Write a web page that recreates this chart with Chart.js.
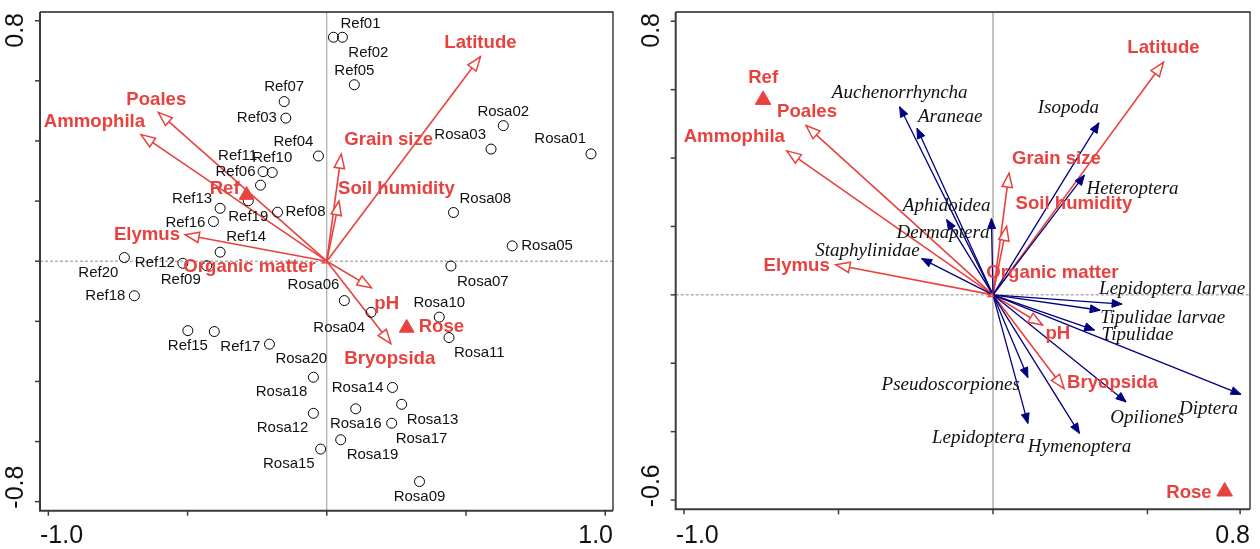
<!DOCTYPE html>
<html><head><meta charset="utf-8">
<script src="https://cdn.jsdelivr.net/npm/chart.js@4"></script>
<style>
html,body{margin:0;padding:0;background:#fff;}
#wrap{position:relative;width:1260px;height:549px;overflow:hidden;}
.c{position:absolute;top:0;width:630px;height:549px;}
</style></head><body>
<div id="wrap">
<div class="c" style="left:0"><canvas id="left" width="630" height="549"></canvas></div>
<div class="c" style="left:630px"><canvas id="right" width="630" height="549"></canvas></div>
</div>
<script>
// ---------------- DATA ----------------
const siteNames = ['Ref01','Ref02','Ref03','Ref04','Ref05','Ref06','Ref07','Ref08','Ref09','Ref10',
  'Ref11','Ref12','Ref13','Ref14','Ref15','Ref16','Ref17','Ref18','Ref19','Ref20',
  'Rosa01','Rosa02','Rosa03','Rosa04','Rosa05','Rosa06','Rosa07','Rosa08','Rosa09','Rosa10',
  'Rosa11','Rosa12','Rosa13','Rosa14','Rosa15','Rosa16','Rosa17','Rosa18','Rosa19','Rosa20'];
const siteX = [0.024,0.056,-0.147,-0.030,0.099,-0.238,-0.153,-0.177,-0.431,-0.196,
  -0.229,-0.517,-0.383,-0.383,-0.499,-0.407,-0.404,-0.691,-0.282,-0.727,
  0.949,0.634,0.590,0.159,0.666,0.063,0.446,0.455,0.333,0.404,
  0.439,-0.048,0.269,0.236,-0.022,0.104,0.233,-0.048,0.050,-0.206];
const siteY = [0.745,0.745,0.476,0.350,0.587,0.253,0.531,0.163,-0.015,0.295,
  0.298,-0.007,0.176,0.030,-0.231,0.132,-0.234,-0.115,0.201,0.012,
  0.357,0.451,0.373,-0.170,0.051,-0.131,-0.016,0.162,-0.733,-0.186,
  -0.254,-0.506,-0.476,-0.420,-0.625,-0.491,-0.539,-0.386,-0.594,-0.276];

const envNames = ['Latitude','Grain size','Soil humidity','Organic matter','pH','Bryopsida','Poales','Ammophila','Elymus'];
const envX = [0.552,0.052,0.044,-0.015,0.160,0.230,-0.605,-0.667,-0.509];
const envY = [0.680,0.356,0.200,-0.005,-0.088,-0.274,0.495,0.421,0.088];

const groupNames = ['Ref','Rose'];
const groupXLeft = [-0.288,0.287];
const groupYLeft = [0.220,-0.222];
const groupXRight = [-0.744,0.750];
const groupYRight = [0.570,-0.575];

const speciesNames = ['Auchenorrhyncha','Araneae','Aphidoidea','Dermaptera','Staphylinidae','Isopoda','Heteroptera',
  'Lepidoptera larvae','Tipulidae larvae','Tipulidae','Diptera','Opiliones','Hymenoptera','Lepidoptera','Pseudoscorpiones'];
const speciesX = [-0.302,-0.246,-0.150,-0.005,-0.231,0.343,0.296,0.418,0.347,0.329,0.803,0.431,0.280,0.113,0.113];
const speciesY = [0.550,0.487,0.220,0.223,0.106,0.503,0.350,-0.027,-0.045,-0.103,-0.291,-0.313,-0.405,-0.376,-0.242];

const leftXTicks = [-1.0,-0.5,0,0.5,1.0];
const leftYTicks = [-0.8,-0.6,-0.4,-0.2,0,0.2,0.4,0.6,0.8];
const leftXTickLabels = ['-1.0','1.0'];
const leftYTickLabels = ['-0.8','0.8'];
const rightXTicks = [-1.0,-0.5,0,0.5,0.8];
const rightYTicks = [-0.6,-0.4,-0.2,0,0.2,0.4,0.6,0.8];
const rightXTickLabels = ['-1.0','0.8'];
const rightYTickLabels = ['-0.6','0.8'];

// ---------------- LABEL LAYOUT (align, dx, dy in px) ----------------
const siteLabelLayout = [
  ['l',7,-13],['l',6,16],['r',-9,0],['r',-5,-14],['c',0,-14],['r',-5,-13],['c',0,-15],['l',8,0],['r',-6,14],['c',0,-15],
  ['r',-6,-16],['r',-8,0],['r',-8,-9],['l',6,-15],['c',0,15],['r',-8,1],['l',6,15],['r',-9,0],['c',0,16],['r',-6,15],
  ['r',-5,-15],['c',0,-14],['r',-5,-14],['r',-6,16],['l',9,0],['r',-5,-16],['l',6,16],['l',6,-14],['c',0,15],['c',0,-14],
  ['l',5,15],['r',-5,15],['l',5,16],['r',-9,0],['r',-6,15],['c',0,15],['l',4,16],['r',-6,15],['l',6,15],['l',6,15]];
const envLayoutLeft = [['c',0,-14],['l',3,-14],['l',-1,-12],['r',-7,4],['l',3,16],['c',-1,15],['c',-2,-13],['r',4,-13],['r',-5,0]];
const envLayoutRight = [['c',0,-14],['l',3,-14],['l',9,-23],['l',-2,-24],['l',3,9],['l',3,-6],['c',1,-14],['r',-2,-14],['r',-6,1]];
const groupLayoutLeft = [['r',-7,-6],['l',12,-1]];
const groupLayoutRight = [['c',0,-22],['r',-13,1]];
const speciesLayout = [['c',0,-14],['l',1,-11],['c',0,-14],['r',-2,14],['r',-2,-8],['r',0,-15],['l',2,14],
  ['l',-23,-15],['l',0,8],['l',7,5],['r',-3,15],['c',21,16],['c',0,14],['r',-3,15],['r',-8,7]];

// ---------------- STYLE ----------------
const RED = '#e8423f';
const NAVY = '#000080';
const SANS = '"Liberation Sans", Arial, sans-serif';
const SERIF = '"Liberation Serif", "Times New Roman", serif';

function head(ctx, x0, y0, x1, y1, len, half, fill, stroke, lw) {
  const d = Math.hypot(x1 - x0, y1 - y0);
  if (d < 0.5) return;
  const L = Math.min(len, d * 0.95), H = half * L / len;
  const a = Math.atan2(y1 - y0, x1 - x0);
  const bx = x1 - L * Math.cos(a), by = y1 - L * Math.sin(a);
  const px = -Math.sin(a) * H, py = Math.cos(a) * H;
  ctx.beginPath();
  ctx.moveTo(x1, y1); ctx.lineTo(bx + px, by + py); ctx.lineTo(bx - px, by - py); ctx.closePath();
  ctx.fillStyle = fill; ctx.fill();
  ctx.lineWidth = lw; ctx.strokeStyle = stroke; ctx.lineJoin = 'miter'; ctx.stroke();
}
function label(ctx, text, x, y, lay, font, color) {
  ctx.font = font; ctx.fillStyle = color; ctx.textBaseline = 'middle';
  ctx.textAlign = lay[0] === 'l' ? 'left' : (lay[0] === 'r' ? 'right' : 'center');
  ctx.fillText(text, x + lay[1], y + lay[2]);
}

function buildChart(id, opt) {
  const datasets = [];
  envNames.forEach((n, i) => datasets.push({
    label: n, showLine: true, data: [{x: 0, y: 0}, {x: envX[i], y: envY[i]}],
    borderColor: RED, borderWidth: 1.6, pointRadius: 0, order: 3
  }));
  if (opt.species) speciesNames.forEach((n, i) => datasets.push({
    label: n, showLine: true, data: [{x: 0, y: 0}, {x: speciesX[i], y: speciesY[i]}],
    borderColor: NAVY, borderWidth: 1.3, pointRadius: 0, order: 2
  }));
  if (opt.sites) datasets.push({
    label: 'sites', data: siteX.map((x, i) => ({x: x, y: siteY[i]})),
    pointStyle: 'circle', pointRadius: 5, borderColor: '#000', borderWidth: 1,
    backgroundColor: 'rgba(255,255,255,0)', order: 1
  });
  datasets.push({
    label: 'groups', data: opt.gx.map((x, i) => ({x: x, y: opt.gy[i]})),
    pointStyle: 'triangle', pointRadius: opt.triR, borderColor: RED, backgroundColor: RED, borderWidth: 1, order: 0
  });

  const plugin = {
    id: 'biplot_' + id,
    beforeDatasetsDraw(chart) {
      const {ctx, chartArea: ca, scales: {x, y}} = chart;
      ctx.save();
      const x0 = x.getPixelForValue(0), y0 = y.getPixelForValue(0);
      ctx.strokeStyle = opt.vColor; ctx.lineWidth = opt.vWidth;
      ctx.beginPath(); ctx.moveTo(x0, ca.top); ctx.lineTo(x0, ca.bottom); ctx.stroke();
      ctx.strokeStyle = '#8a8a8a'; ctx.lineWidth = 1; ctx.setLineDash([3, 2]);
      ctx.beginPath(); ctx.moveTo(ca.left, y0); ctx.lineTo(ca.right, y0); ctx.stroke();
      ctx.restore();
    },
    afterDatasetsDraw(chart) {
      const {ctx, scales: {x, y}} = chart;
      const ox = x.getPixelForValue(0), oy = y.getPixelForValue(0);
      ctx.save();
      if (opt.species) speciesNames.forEach((n, i) => {
        head(ctx, ox, oy, x.getPixelForValue(speciesX[i]), y.getPixelForValue(speciesY[i]), 10, 4, NAVY, NAVY, 1);
      });
      envNames.forEach((n, i) => {
        head(ctx, ox, oy, x.getPixelForValue(envX[i]), y.getPixelForValue(envY[i]), 14, 5.2, '#fff', RED, 1.5);
      });
      // labels
      if (opt.sites) siteNames.forEach((n, i) => {
        label(ctx, n, x.getPixelForValue(siteX[i]), y.getPixelForValue(siteY[i]), siteLabelLayout[i], '15px ' + SANS, '#111');
      });
      if (opt.species) speciesNames.forEach((n, i) => {
        label(ctx, n, x.getPixelForValue(speciesX[i]), y.getPixelForValue(speciesY[i]), speciesLayout[i], 'italic 19px ' + SERIF, '#111');
      });
      envNames.forEach((n, i) => {
        label(ctx, n, x.getPixelForValue(envX[i]), y.getPixelForValue(envY[i]), opt.envLayout[i], 'bold 18.6px ' + SANS, RED);
      });
      groupNames.forEach((n, i) => {
        label(ctx, n, x.getPixelForValue(opt.gx[i]), y.getPixelForValue(opt.gy[i]), opt.gLayout[i], 'bold 18.6px ' + SANS, RED);
      });
      ctx.restore();
    },
    afterDraw(chart) {
      const {ctx, chartArea: ca, scales: {x, y}} = chart;
      ctx.save();
      // frame
      ctx.strokeStyle = '#222'; ctx.lineWidth = 1.3;
      ctx.beginPath(); ctx.moveTo(ca.left, ca.top); ctx.lineTo(ca.right, ca.top); ctx.lineTo(ca.right, ca.bottom); ctx.stroke();
      ctx.strokeStyle = '#3a3a3a'; ctx.lineWidth = 2;
      ctx.beginPath(); ctx.moveTo(ca.left, ca.top); ctx.lineTo(ca.left, ca.bottom); ctx.lineTo(ca.right, ca.bottom); ctx.stroke();
      // ticks
      ctx.lineWidth = 1.5;
      opt.xTicks.forEach(v => { const p = x.getPixelForValue(v); ctx.beginPath(); ctx.moveTo(p, ca.bottom); ctx.lineTo(p, ca.bottom + 5); ctx.stroke(); });
      opt.yTicks.forEach(v => { const p = y.getPixelForValue(v); ctx.beginPath(); ctx.moveTo(ca.left, p); ctx.lineTo(ca.left - 5, p); ctx.stroke(); });
      // tick labels
      ctx.fillStyle = '#111'; ctx.font = '25px ' + SANS; ctx.textBaseline = 'middle';
      ctx.textAlign = 'left'; ctx.fillText(opt.xLabels[0], ca.left, 536);
      ctx.textAlign = 'right'; ctx.fillText(opt.xLabels[1], ca.right, 536);
      const lx = ca.left - opt.yLabelGap;
      ctx.save(); ctx.translate(lx, ca.bottom - 2); ctx.rotate(-Math.PI / 2);
      ctx.textAlign = 'left'; ctx.fillText(opt.yLabels[0], 0, 0); ctx.restore();
      ctx.save(); ctx.translate(lx, ca.top + 1); ctx.rotate(-Math.PI / 2);
      ctx.textAlign = 'right'; ctx.fillText(opt.yLabels[1], 0, 0); ctx.restore();
      ctx.restore();
    }
  };

  return new Chart(document.getElementById(id), {
    type: 'scatter',
    data: {datasets},
    options: {
      responsive: false, animation: false, devicePixelRatio: 1, events: [],
      layout: {padding: opt.padding},
      plugins: {legend: {display: false}, tooltip: {enabled: false}},
      scales: {
        x: {type: 'linear', min: opt.xr[0], max: opt.xr[1], display: false},
        y: {type: 'linear', min: opt.yr[0], max: opt.yr[1], display: false}
      }
    },
    plugins: [plugin]
  });
}

buildChart('left', {
  sites: true, species: false,
  gx: groupXLeft, gy: groupYLeft, triR: 8.5, gLayout: groupLayoutLeft, envLayout: envLayoutLeft,
  xr: [-1.030, 1.028], yr: [-0.830, 0.829],
  padding: {left: 40, right: 17, top: 12, bottom: 38.3},
  xTicks: leftXTicks, yTicks: leftYTicks, xLabels: leftXTickLabels, yLabels: leftYTickLabels, yLabelGap: 23.5,
  vColor: '#9a9a9a', vWidth: 1
});
buildChart('right', {
  sites: false, species: true,
  gx: groupXRight, gy: groupYRight, triR: 9, gLayout: groupLayoutRight, envLayout: envLayoutRight,
  xr: [-1.027, 0.832], yr: [-0.627, 0.827],
  padding: {left: 45.7, right: 9.3, top: 12, bottom: 39.7},
  xTicks: rightXTicks, yTicks: rightYTicks, xLabels: rightXTickLabels, yLabels: rightYTickLabels, yLabelGap: 23.5,
  vColor: '#b0b0b0', vWidth: 1.5
});
</script>
</body></html>
